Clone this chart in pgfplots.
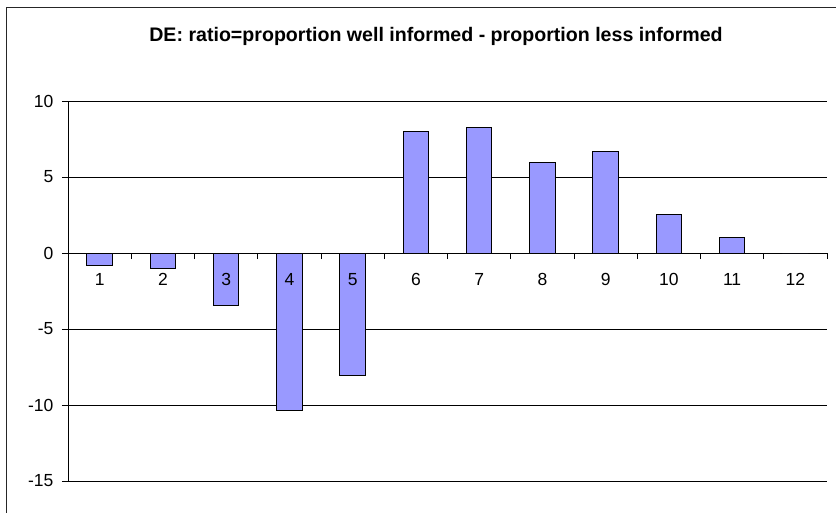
\documentclass[border=0pt]{standalone}
\usepackage{fontspec}
\setmainfont{Liberation Sans}
\usepackage{pgfplots}
\pgfplotsset{compat=1.18}
\definecolor{barfill}{HTML}{9999FF}
\pgfplotsset{
  common/.style={
    scale only axis, width=759pt, height=380pt,
    xmin=0.5, xmax=12.5, ymin=-15, ymax=10,
    axis x line=middle, axis y line=left,
    xtick={1,...,12},
    ytick={-15,-10,-5,0,5,10},
    tick align=center,
    major tick length=6pt, minor tick length=6pt,
    ticklabel style={font=\fontsize{17.5}{20}\selectfont},
    xticklabel style={yshift=-14pt},
    yticklabel style={xshift=-8pt},
    /pgf/number format/assume math mode=true,
    clip=false,
  }
}
\begin{document}
\begin{tikzpicture}
\begin{axis}[common,
  axis line style={-, black, line width=0.8pt},
  major x tick style={draw=none},
  minor xtick={1.5,2.5,...,12.5},
  minor x tick style={black, line width=0.8pt, yshift=-3pt},
  major y tick style={black, line width=0.8pt, xshift=-3pt},
  ymajorgrids,
  grid style={black, line width=0.8pt},
  xticklabels={},
]
\coordinate (LL) at (rel axis cs:0,0);
\addplot[ybar, bar width=25.3pt, bar shift=0pt, fill=barfill, draw=black, line width=1pt]
  coordinates {(1,-0.8) (2,-1.05) (3,-3.47) (4,-10.35) (5,-8.05) (6,8.0) (7,8.25) (8,5.97) (9,6.67) (10,2.52) (11,1.05) (12,0)};
\end{axis}
\begin{axis}[common,
  axis line style={draw=none},
  tick style={draw=none},
  yticklabels={},
]
\end{axis}
\pgfresetboundingbox
\useasboundingbox ([shift={(-68pt,-31pt)}]LL) rectangle ++(836pt,512pt);
\draw[line width=0.9pt, black!85] ([shift={(-62pt,-40pt)}]LL) -- ++(0pt,514pt) -- ++(860pt,0pt);
\node[font=\fontsize{19.6}{22}\selectfont\bfseries] at ([shift={(368pt,445pt)}]LL) {DE: ratio=proportion well informed - proportion less informed};
\end{tikzpicture}
\end{document}
